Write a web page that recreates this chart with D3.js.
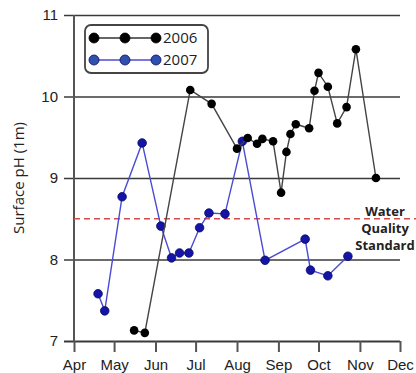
<!DOCTYPE html>
<html>
<head>
<meta charset="utf-8">
<script src="https://cdn.jsdelivr.net/npm/d3@7"></script>
<style>
  body { margin: 0; background: #fff; }
  svg { display: block; font-family: "Open Sans", sans-serif; }
</style>
</head>
<body>
<div id="chart"></div>
<script>
// chart size
var width = 416;
var height = 373;

// 2006 samples (month-day, surface pH)
var dates2006 = ["05-16", "05-24", "06-27", "07-13", "08-01", "08-09", "08-16", "08-20", "08-28",
                 "09-03", "09-07", "09-10", "09-14", "09-24", "09-28", "10-01", "10-08", "10-15",
                 "10-22", "10-29", "11-13"];
var ph2006 = [7.13, 7.10, 10.08, 9.91, 9.36, 9.49, 9.42, 9.48, 9.45,
              8.82, 9.32, 9.54, 9.66, 9.61, 10.07, 10.29, 10.12, 9.67,
              9.87, 10.58, 9.00];

// 2007 samples
var dates2007 = ["04-19", "04-24", "05-07", "05-22", "06-05", "06-13", "06-19", "06-26", "07-04",
                 "07-11", "07-23", "08-05", "08-22", "09-21", "09-25", "10-08", "10-23"];
var ph2007 = [7.58, 7.37, 8.77, 9.43, 8.41, 8.02, 8.08, 8.08, 8.39,
              8.57, 8.56, 9.45, 7.99, 8.25, 7.87, 7.80, 8.04];

var yTicks = [7, 8, 9, 10, 11];
var standard = 8.5;
var standardLabel = ["Water", "Quality", "Standard"];

var parse = d3.timeParse("%m-%d");

var black = "#000";
var blueLine = "#4b4bd2";
var blueDot = "#1414a8";

var svg = d3.select("#chart")
    .append("svg")
    .attr("width", width)
    .attr("height", height);

var x = d3.scaleTime()
    .domain([parse("04-01"), parse("12-01")])
    .range([74, 400]);

var y = d3.scaleLinear()
    .domain([7, 11])
    .range([341, 15]);

// gridlines + y labels (axis anchored on the right so ticks run across)
var yAxis = d3.axisLeft(y)
    .tickValues(yTicks)
    .tickFormat(d3.format("d"))
    .tickSize(336)
    .tickPadding(6);

var gy = svg.append("g")
    .attr("transform", "translate(400,0)")
    .call(yAxis);
gy.select(".domain").remove();
gy.selectAll(".tick line")
    .attr("stroke", "#3a3a3a")
    .attr("stroke-width", function(d) { return d == 7 ? 2 : 1.6; });
gy.selectAll(".tick text")
    .style("font-size", "15px")
    .attr("fill", "#222");

// left axis line
svg.append("line")
    .attr("x1", 74).attr("x2", 74)
    .attr("y1", y(11)).attr("y2", y(7))
    .attr("stroke", "#555")
    .attr("stroke-width", 2);

// month axis
var xAxis = d3.axisBottom(x)
    .ticks(d3.timeMonth.every(1))
    .tickFormat(d3.timeFormat("%b"))
    .tickSizeInner(11)
    .tickSizeOuter(0)
    .tickPadding(7);

var gx = svg.append("g")
    .attr("transform", "translate(0," + y(7) + ")")
    .call(xAxis);
gx.select(".domain").remove();
gx.selectAll(".tick line")
    .attr("stroke", "#555")
    .attr("stroke-width", 2);
gx.selectAll(".tick text")
    .style("font-size", "15px")
    .attr("fill", "#222");

// y title
svg.append("text")
    .attr("transform", "translate(24," + y(9) + ") rotate(-90)")
    .attr("text-anchor", "middle")
    .style("font-size", "15px")
    .attr("fill", "#222")
    .text("Surface pH (1m)");

// water quality standard
svg.append("line")
    .attr("x1", 74).attr("x2", width)
    .attr("y1", y(standard)).attr("y2", y(standard))
    .attr("stroke", "#d24a4a")
    .attr("stroke-width", 1.5)
    .attr("stroke-dasharray", "6,4");

svg.append("text")
    .attr("x", 385)
    .attr("y", 216)
    .attr("text-anchor", "middle")
    .style("font-size", "13px")
    .style("font-weight", "bold")
    .attr("fill", "#222")
    .selectAll("tspan")
    .data(standardLabel)
    .enter()
    .append("tspan")
    .attr("x", 385)
    .attr("dy", function(d, i) { return i == 0 ? 0 : 17; })
    .text(function(d) { return d; });

var line = d3.line()
    .x(function(d) { return x(d.date); })
    .y(function(d) { return y(d.ph); });

function series(dates, vals) {
    return dates.map(function(d, i) { return { date: parse(d), ph: vals[i] }; });
}

var s2007 = series(dates2007, ph2007);
var s2006 = series(dates2006, ph2006);

// 2007
svg.append("path")
    .datum(s2007)
    .attr("d", line)
    .attr("fill", "none")
    .attr("stroke", blueLine)
    .attr("stroke-width", 1.4);

svg.selectAll(".dot07")
    .data(s2007)
    .enter()
    .append("circle")
    .attr("class", "dot07")
    .attr("cx", function(d) { return x(d.date); })
    .attr("cy", function(d) { return y(d.ph); })
    .attr("r", 4.3)
    .attr("fill", blueDot)
    .attr("stroke", "#0a0a60")
    .attr("stroke-width", 0.8);

// 2006
svg.append("path")
    .datum(s2006)
    .attr("d", line)
    .attr("fill", "none")
    .attr("stroke", "#444")
    .attr("stroke-width", 1.4);

svg.selectAll(".dot06")
    .data(s2006)
    .enter()
    .append("circle")
    .attr("class", "dot06")
    .attr("cx", function(d) { return x(d.date); })
    .attr("cy", function(d) { return y(d.ph); })
    .attr("r", 4.3)
    .attr("fill", black);

// legend
var legend = svg.append("g");
legend.append("rect")
    .attr("x", 85).attr("y", 25)
    .attr("width", 123).attr("height", 48)
    .attr("rx", 6)
    .attr("fill", "#fff")
    .attr("stroke", "#444")
    .attr("stroke-width", 1.8);

var legendItems = [
    { label: "2006", line: "#333", dot: black, stroke: black },
    { label: "2007", line: blueLine, dot: "#3050b0", stroke: "#0a0a60" }
];

legendItems.forEach(function(item, i) {
    var ly = 38 + i * 22;
    legend.append("line")
        .attr("x1", 94).attr("x2", 156)
        .attr("y1", ly).attr("y2", ly)
        .attr("stroke", item.line)
        .attr("stroke-width", 1.6);
    [94, 125, 156].forEach(function(cx) {
        legend.append("circle")
            .attr("cx", cx).attr("cy", ly)
            .attr("r", 5)
            .attr("fill", item.dot)
            .attr("stroke", item.stroke)
            .attr("stroke-width", 0.8);
    });
    legend.append("text")
        .attr("x", 163).attr("y", ly + 5)
        .style("font-size", "15px")
        .attr("fill", "#222")
        .text(item.label);
});
</script>
</body>
</html>
